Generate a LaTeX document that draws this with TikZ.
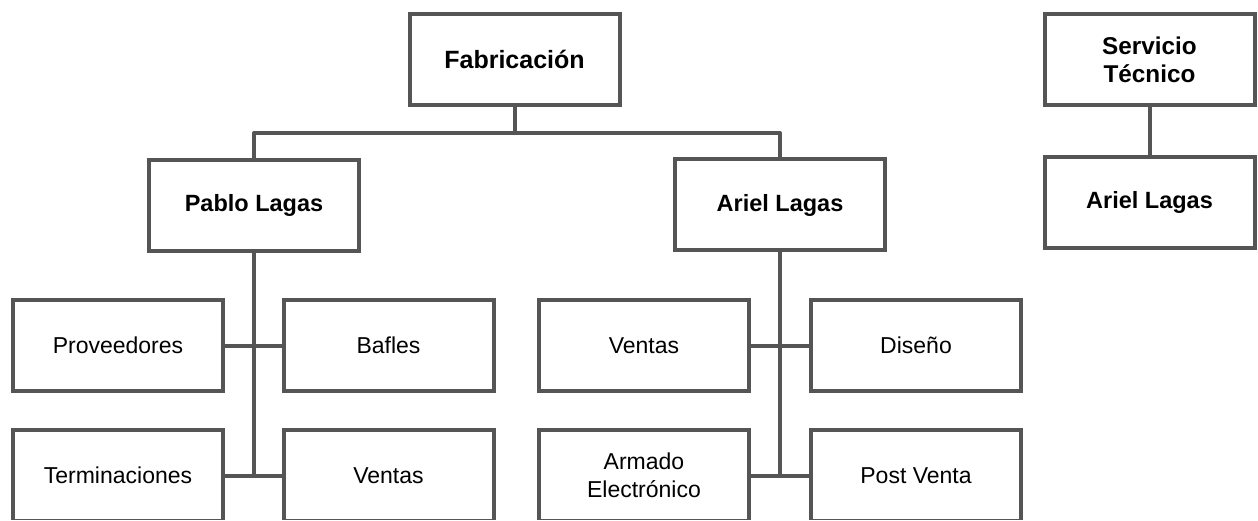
\documentclass[tikz,border=0pt]{standalone}
\usepackage{fontspec}
\setmainfont{Liberation Sans}
\definecolor{edge}{HTML}{555555}
\begin{document}
\begin{tikzpicture}[x=1pt,y=-1pt,
  box/.style={draw=edge,line width=4pt,fill=white,minimum width=210pt,minimum height=91pt,
    inner sep=0pt,align=center,font=\fontsize{23}{27.5}\selectfont,text=black},
  head/.style={box,font=\fontsize{23.5}{28}\selectfont\bfseries},
  link/.style={draw=edge,line width=4pt,line join=round}]
\useasboundingbox (0,0) rectangle (1258,521);
\fill[white] (0,0) rectangle (1258,521);
\clip (0,0) rectangle (1258,519.5);
\coordinate (bus) at (514.5,133);
\node[head,font=\fontsize{25}{30}\selectfont\bfseries] (fab) at (514.5,59.5) {Fabricación};
\node[head] (pablo) at (254,205.5) {Pablo Lagas};
\node[head] (ariel) at (780,205) {Ariel Lagas};
\node[head,font=\fontsize{24.3}{28}\selectfont\bfseries] (serv) at (1149.5,59.5) {Servicio\\Técnico};
\node[head] (ariel2) at (1149.5,202.5) {Ariel Lagas};
\node[box] (prov) at (118,345.5) {Proveedores};
\node[box] (bafles) at (388.5,345.5) {Bafles};
\node[box] (term) at (118,475.5) {Terminaciones};
\node[box] (ventasl) at (388.5,475.5) {Ventas};
\node[box] (ventasr) at (644,345.5) {Ventas};
\node[box] (diseno) at (916,345.5) {Diseño};
\node[box] (armado) at (644,475.5) {Armado\\Electrónico};
\node[box] (post) at (916,475.5) {Post Venta};
\path[link] (fab.south) -- (bus);
\path[link] (pablo.north) |- (bus) -| (ariel.north);
\path[link] (serv.south) -- (ariel2.north);
\path[link] (pablo.south) -- (pablo.south |- term.east);
\path[link] (prov.east) -- (bafles.west);
\path[link] (term.east) -- (ventasl.west);
\path[link] (ariel.south) -- (ariel.south |- armado.east);
\path[link] (ventasr.east) -- (diseno.west);
\path[link] (armado.east) -- (post.west);
\end{tikzpicture}
\end{document}
